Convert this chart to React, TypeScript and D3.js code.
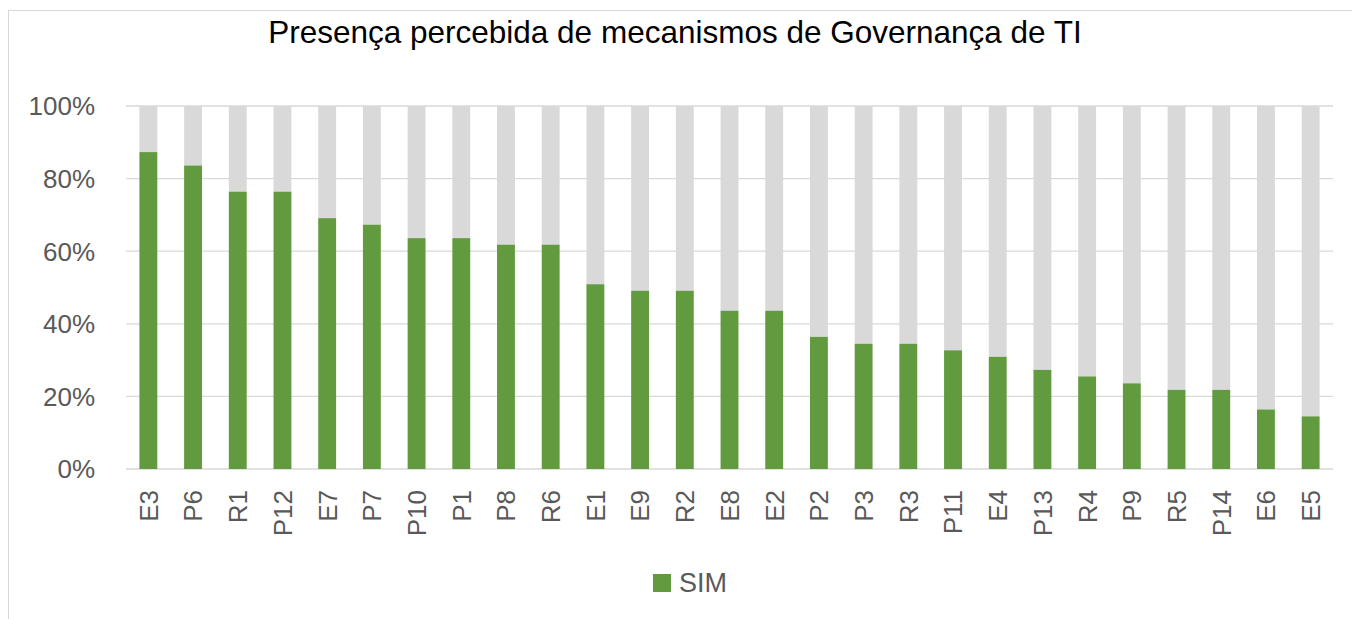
import { scaleBand, scaleLinear } from 'd3'

const categories = [
  'E3', 'P6', 'R1', 'P12', 'E7', 'P7', 'P10', 'P1', 'P8', 'R6', 'E1', 'E9', 'R2', 'E8',
  'E2', 'P2', 'P3', 'R3', 'P11', 'E4', 'P13', 'R4', 'P9', 'R5', 'P14', 'E6', 'E5',
]
// share of "SIM" answers, in %
const simValues = [
  87.3, 83.6, 76.4, 76.4, 69.1, 67.3, 63.6, 63.6, 61.8, 61.8, 50.9, 49.1, 49.1, 43.6,
  43.6, 36.4, 34.5, 34.5, 32.7, 30.9, 27.3, 25.5, 23.6, 21.8, 21.8, 16.4, 14.5,
]
const yTicks = [0, 20, 40, 60, 80, 100]

const width = 1352
const height = 619
const left = 126
const right = 1333
const top = 106
const bottom = 469

const green = '#629a3f'
const grey = '#d9d9d9'
const textGrey = '#595959'

const x = scaleBand<string>().domain(categories).range([left, right]).paddingInner(0.6).paddingOuter(0.3)
const y = scaleLinear().domain([0, 100]).range([bottom, top])

function App() {
  return (
    <svg
      width={width}
      height={height}
      style={{ position: 'absolute', left: 0, top: 0, background: '#fff' }}
      fontFamily="'Liberation Sans', Arial, sans-serif"
    >
      <rect x={8.5} y={10.5} width={width + 10} height={height + 10} fill="#fff" stroke="#d9d9d9" />

      <text x={675} y={43} textAnchor="middle" fontSize={31.5} fill="#000">
        Presença percebida de mecanismos de Governança de TI
      </text>

      {yTicks.map((t) => (
        <g key={t}>
          <line x1={left} x2={right} y1={y(t)} y2={y(t)} stroke={grey} strokeWidth={1.3} />
          <text x={95} y={y(t)} dy="0.36em" textAnchor="end" fontSize={26} fill={textGrey}>
            {t}%
          </text>
        </g>
      ))}

      {categories.map((c, i) => {
        const bx = x(c) as number
        const v = simValues[i]
        return (
          <g key={c}>
            <rect x={bx} y={y(100)} width={x.bandwidth()} height={y(v) - y(100)} fill={grey} />
            <rect x={bx} y={y(v)} width={x.bandwidth()} height={y(0) - y(v)} fill={green} />
            <text
              transform={`translate(${bx + x.bandwidth() / 2},490) rotate(-90)`}
              dy="0.36em"
              textAnchor="end"
              fontSize={26}
              fill={textGrey}
            >
              {c}
            </text>
          </g>
        )
      })}

      <rect x={653} y={574} width={18} height={18} fill={green} />
      <text x={679} y={592} fontSize={27} fill={textGrey}>
        SIM
      </text>
    </svg>
  )
}

export default App
